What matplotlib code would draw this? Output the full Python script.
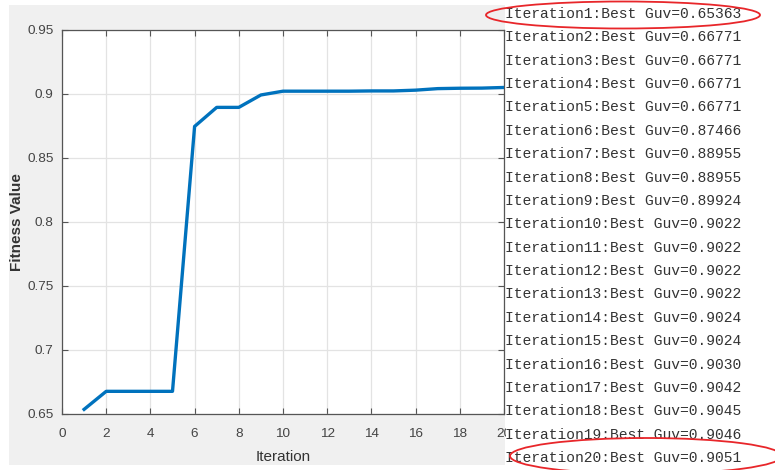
import matplotlib
matplotlib.use("Agg")
import matplotlib.pyplot as plt
from matplotlib.patches import Rectangle, Ellipse

# Best fitness per iteration
iterations = list(range(1, 21))
best_guv = [0.65363, 0.66771, 0.66771, 0.66771, 0.66771, 0.87466, 0.88955,
            0.88955, 0.89924, 0.9022, 0.9022, 0.9022, 0.9022, 0.9024, 0.9024,
            0.9030, 0.9042, 0.9045, 0.9046, 0.9051]
# Printed values as they appear in the console log
guv_text = ["0.65363", "0.66771", "0.66771", "0.66771", "0.66771", "0.87466",
            "0.88955", "0.88955", "0.89924", "0.9022", "0.9022", "0.9022",
            "0.9022", "0.9024", "0.9024", "0.9030", "0.9042", "0.9045",
            "0.9046", "0.9051"]
x_ticks = list(range(0, 21, 2))
y_ticks = [0.65, 0.7, 0.75, 0.8, 0.85, 0.9, 0.95]
y_tick_labels = ["0.65", "0.7", "0.75", "0.8", "0.85", "0.9", "0.95"]

W, H = 775, 470
fig = plt.figure(figsize=(W / 100, H / 100), dpi=100)
fig.patch.set_facecolor("white")

def px(x, y):
    return x / W, 1 - y / H

# grey figure window behind the axes
fig.patches.append(Rectangle(px(9, 465), (505 - 9) / W, (465 - 5) / H,
                             transform=fig.transFigure, facecolor="#f0f0f0",
                             edgecolor="none", zorder=-10))

l, b = px(62, 414)
r, t = px(504, 30)
ax = fig.add_axes([l, b, r - l, t - b])
ax.set_facecolor("white")
ax.plot(iterations, best_guv, color="#0072BD", linewidth=2.4, zorder=3)
ax.set_xlim(0, 20)
ax.set_ylim(0.65, 0.95)
ax.set_xticks(x_ticks)
ax.set_yticks(y_ticks)
ax.set_yticklabels(y_tick_labels)
ax.grid(True, color="#e3e3e3", linewidth=0.9)
ax.set_axisbelow(True)
for s in ax.spines.values():
    s.set_color("#555555")
    s.set_linewidth(0.9)
ax.tick_params(direction="in", length=4, width=0.8, colors="#555555",
               top=True, right=True, labelsize=9.7, labelcolor="#444444")
ax.tick_params(axis="x", pad=10)
ax.tick_params(axis="y", pad=6)
for lab in ax.get_xticklabels() + ax.get_yticklabels():
    lab.set_fontfamily("Liberation Sans")
ax.set_xlabel("Iteration", fontsize=11, family="Liberation Sans",
              color="#333333", labelpad=7)
ax.set_ylabel("Fitness Value", fontsize=11, family="Liberation Sans",
              fontweight="bold", color="#333333", labelpad=2.5)

# console panel on the right
fig.patches.append(Rectangle(px(506, 470), (W - 506) / W, 1,
                             transform=fig.transFigure, facecolor="white",
                             edgecolor="none", zorder=5))
y0, y1 = 14, 458
for i, (it, g) in enumerate(zip(iterations, guv_text)):
    yy = y0 + (y1 - y0) * i / (len(iterations) - 1)
    fig.text(505 / W, 1 - yy / H, f"Iteration{it}:Best Guv={g}",
             family="Liberation Mono", fontsize=10.5, color="#333333",
             ha="left", va="center", zorder=6)

# highlight first and last iteration
for cx, cy, w, h in [(623, 15, 274, 27), (646, 456, 272, 36)]:
    fx, fy = px(cx, cy)
    fig.patches.append(Ellipse((fx, fy), w / W, h / H,
                               transform=fig.transFigure, facecolor="none",
                               edgecolor="#e8262a", linewidth=1.3, zorder=7))

fig.savefig("out.png", dpi=100)
